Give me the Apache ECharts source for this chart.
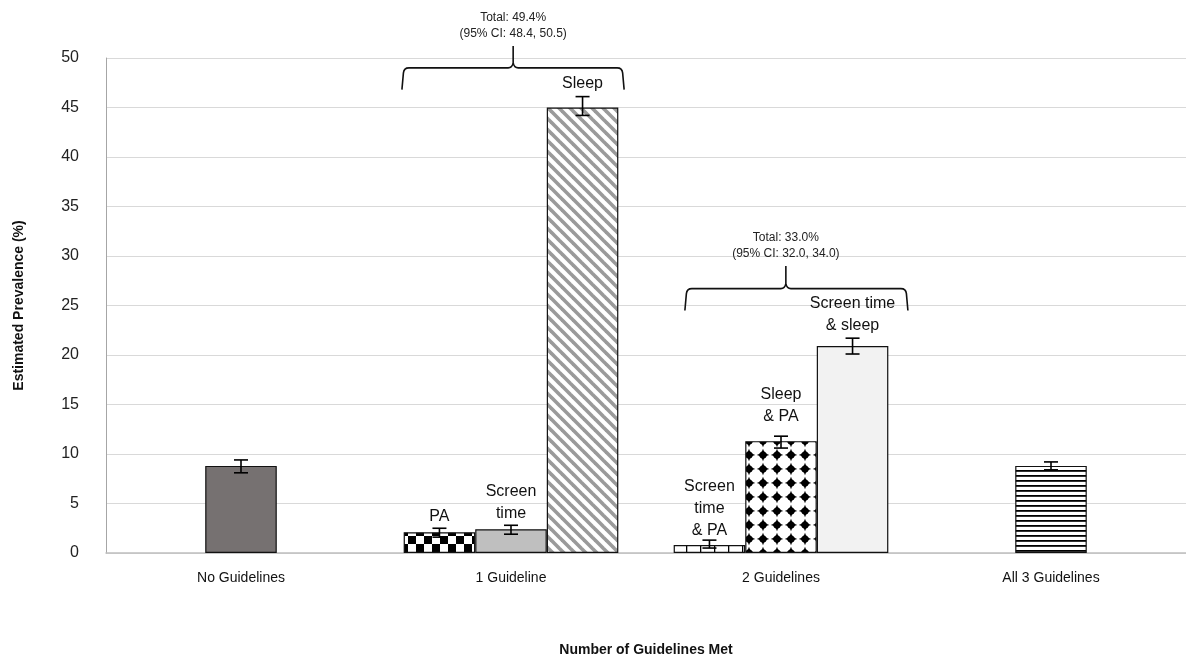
<!DOCTYPE html>
<html>
<head>
<meta charset="utf-8">
<script src="https://cdn.jsdelivr.net/npm/echarts@6/dist/echarts.min.js"></script>
<style>
html,body{margin:0;padding:0;background:#fff;}
#chart{width:1186px;height:662px;}
</style>
</head>
<body>
<div id="chart"></div>
<script>
// ---------- data ----------
const categories = ['No Guidelines', '1 Guideline', '2 Guidelines', 'All 3 Guidelines'];
// three bar slots per category (left, middle, right)
const leftValues  = [null, 2.1, 0.8, null];
const leftLow     = [null, 1.6, 0.5, null];
const leftHigh    = [null, 2.5, 1.3, null];
const leftNames   = ['', 'PA', 'Screen\ntime\n& PA', ''];

const midValues   = [8.8, 2.4, 11.3, 8.8];
const midLow      = [8.1, 1.9, 10.6, 8.4];
const midHigh     = [9.4, 2.8, 11.8, 9.2];
const midNames    = ['', 'Screen\ntime', 'Sleep\n& PA', ''];

const rightValues = [null, 45.0, 20.9, null];
const rightLow    = [null, 44.2, 20.1, null];
const rightHigh   = [null, 46.1, 21.7, null];
const rightNames  = ['', 'Sleep', 'Screen time\n& sleep', ''];

const totalCats   = [1, 2];
const totalText   = ['Total: 49.4%', 'Total: 33.0%'];
const ciText      = ['(95% CI: 48.4, 50.5)', '(95% CI: 32.0, 34.0)'];

const yTicks = [0, 5, 10, 15, 20, 25, 30, 35, 40, 45, 50];

// ---------- patterns / styles ----------
function mk(w, h, draw) {
  const c = document.createElement('canvas');
  c.width = w; c.height = h;
  const ctx = c.getContext('2d');
  ctx.fillStyle = '#fff'; ctx.fillRect(0, 0, w, h);
  draw(ctx, w, h);
  return {image: c, repeat: 'repeat'};
}
const pat = {
  checker: () => mk(16, 16, (c) => { c.fillStyle = '#000'; c.fillRect(0, 0, 8, 8); c.fillRect(8, 8, 8, 8); }),
  diag: () => mk(11, 11, (c, w) => {
    c.strokeStyle = '#9a9a9a'; c.lineWidth = 3.6;
    for (let x = -w; x <= w; x += w) { c.beginPath(); c.moveTo(x - 2, -2); c.lineTo(x + w + 2, w + 2); c.stroke(); }
  }),
  stars: () => mk(14, 14, (c) => {
    c.fillStyle = '#000';
    const m = 7, a = 6.2, k = 1.3;
    c.beginPath();
    c.moveTo(m, m - a);
    c.quadraticCurveTo(m + k, m - k, m + a, m);
    c.quadraticCurveTo(m + k, m + k, m, m + a);
    c.quadraticCurveTo(m - k, m + k, m - a, m);
    c.quadraticCurveTo(m - k, m - k, m, m - a);
    c.closePath(); c.fill();
    c.beginPath(); c.arc(m, m, 3.6, 0, Math.PI * 2); c.fill();
  }),
  vlines: () => mk(14, 14, (c) => { c.fillStyle = '#000'; c.fillRect(0, 0, 1.3, 14); }),
  hlines: () => mk(8, 5, (c) => { c.fillStyle = '#000'; c.fillRect(0, 0, 8, 1.8); })
};
const styleMap = {
  left:  [null, {color: pat.checker(), dist: 5}, {color: pat.vlines(), dist: 3}, null],
  mid:   [{color: '#767171'}, {color: '#bfbfbf', dist: 5}, {color: pat.stars(), dist: 14}, {color: pat.hlines()}],
  right: [null, {color: pat.diag(), dist: 13}, {color: '#f2f2f2', dist: 9}, null]
};

function buildBar(values, names, styles) {
  return values.map((v, i) => {
    if (v == null) return '-';
    const s = styles[i];
    return {
      value: v,
      itemStyle: {color: s.color, borderColor: '#111', borderWidth: 1.2},
      label: {show: !!names[i], formatter: names[i], distance: s.dist || 10}
    };
  });
}

const FONT = '"Liberation Sans", Arial, sans-serif';
const BAR_GAP_CAT = 0.205;

const errData = [];
[[leftLow, leftHigh, -1], [midLow, midHigh, 0], [rightLow, rightHigh, 1]].forEach(([lo, hi, slot]) => {
  lo.forEach((l, i) => { if (l != null) errData.push([i, l, hi[i], slot]); });
});

const barCommon = {
  type: 'bar',
  barGap: '0%',
  barCategoryGap: (BAR_GAP_CAT * 100) + '%',
  label: {show: true, position: 'top', color: '#111', fontFamily: FONT, fontSize: 16, lineHeight: 22},
  emphasis: {disabled: true},
  animation: false
};

const option = {
  animation: false,
  grid: {left: 106, right: 0, top: 58, bottom: 104, containLabel: false},
  xAxis: {
    type: 'category',
    data: categories,
    axisTick: {show: false},
    axisLine: {lineStyle: {color: '#bfbfbf', width: 1.5}},
    axisLabel: {color: '#111', fontFamily: FONT, fontSize: 14, margin: 18},
    name: 'Number of Guidelines Met',
    nameLocation: 'middle',
    nameGap: 90,
    nameTextStyle: {color: '#111', fontFamily: FONT, fontSize: 14, fontWeight: 'bold'}
  },
  yAxis: {
    type: 'value',
    min: 0, max: 50, interval: 5,
    axisLine: {show: true, lineStyle: {color: '#a6a6a6'}},
    axisTick: {show: false},
    splitLine: {lineStyle: {color: '#d9d9d9', width: 1.2}},
    axisLabel: {color: '#222', fontFamily: FONT, fontSize: 16, margin: 27,
      formatter: v => yTicks.includes(v) ? String(v) : ''},
    name: 'Estimated Prevalence (%)',
    nameLocation: 'middle',
    nameGap: 80,
    nameTextStyle: {color: '#111', fontFamily: FONT, fontSize: 14, fontWeight: 'bold'}
  },
  series: [
    Object.assign({}, barCommon, {name: 'left', data: buildBar(leftValues, leftNames, styleMap.left)}),
    Object.assign({}, barCommon, {name: 'mid', data: buildBar(midValues, midNames, styleMap.mid)}),
    Object.assign({}, barCommon, {name: 'right', data: buildBar(rightValues, rightNames, styleMap.right)}),
    {
      type: 'custom',
      name: 'err',
      data: errData,
      z: 10,
      clip: false,
      renderItem: function (params, api) {
        const cat = api.value(0), lo = api.value(1), hi = api.value(2), slot = api.value(3);
        const catW = api.size([1, 0])[0];
        const bw = catW * (1 - BAR_GAP_CAT) / 3;
        const pLo = api.coord([cat, lo]), pHi = api.coord([cat, hi]);
        const x = pLo[0] + slot * bw;
        const cap = 7;
        const st = {stroke: '#000', lineWidth: 1.6};
        return {type: 'group', children: [
          {type: 'line', shape: {x1: x, y1: pLo[1], x2: x, y2: pHi[1]}, style: st},
          {type: 'line', shape: {x1: x - cap, y1: pLo[1], x2: x + cap, y2: pLo[1]}, style: st},
          {type: 'line', shape: {x1: x - cap, y1: pHi[1], x2: x + cap, y2: pHi[1]}, style: st}
        ]};
      }
    },
    {
      type: 'custom',
      name: 'brace',
      data: totalCats.map((c, i) => [c, i]),
      z: 10,
      clip: false,
      renderItem: function (params, api) {
        const i = params.dataIndex;
        const cat = api.value(0);
        const catW = api.size([1, 0])[0];
        const geo = i === 0
          ? {l: -0.404, r: 0.419, tip: 0.008, yH: 49.0, yE: 46.8, yT: 51.2}
          : {l: -0.356, r: 0.470, tip: 0.018, yH: 26.7, yE: 24.5, yT: 29.0};
        const c = api.coord([cat, geo.yH]);
        const yH = c[1];
        const yE = api.coord([cat, geo.yE])[1];
        const yT = api.coord([cat, geo.yT])[1];
        const x0 = c[0] + geo.l * catW, x1 = c[0] + geo.r * catW, xm = c[0] + geo.tip * catW;
        const r = 5;
        const path = [
          'M', x0, yE,
          'L', x0 + 1.5, yH + r,
          'Q', x0 + 2, yH, x0 + r + 2, yH,
          'L', xm - r, yH,
          'Q', xm - 1, yH, xm, yH - r,
          'L', xm, yT,
          'M', xm, yH - r,
          'Q', xm + 1, yH, xm + r, yH,
          'L', x1 - r - 2, yH,
          'Q', x1 - 2, yH, x1 - 1.5, yH + r,
          'L', x1, yE
        ].join(' ');
        return {type: 'group', children: [
          {type: 'path', shape: {pathData: path}, style: {stroke: '#111', lineWidth: 1.6, fill: null}},
          {type: 'text', x: xm, y: yT - 28, style: {text: totalText[i], fill: '#222', font: '12px ' + FONT, align: 'center', verticalAlign: 'middle'}},
          {type: 'text', x: xm, y: yT - 12, style: {text: ciText[i], fill: '#222', font: '12px ' + FONT, align: 'center', verticalAlign: 'middle'}}
        ]};
      }
    }
  ]
};

const chart = echarts.init(document.getElementById('chart'), null, {renderer: 'canvas'});
chart.setOption(option);
</script>
</body>
</html>
